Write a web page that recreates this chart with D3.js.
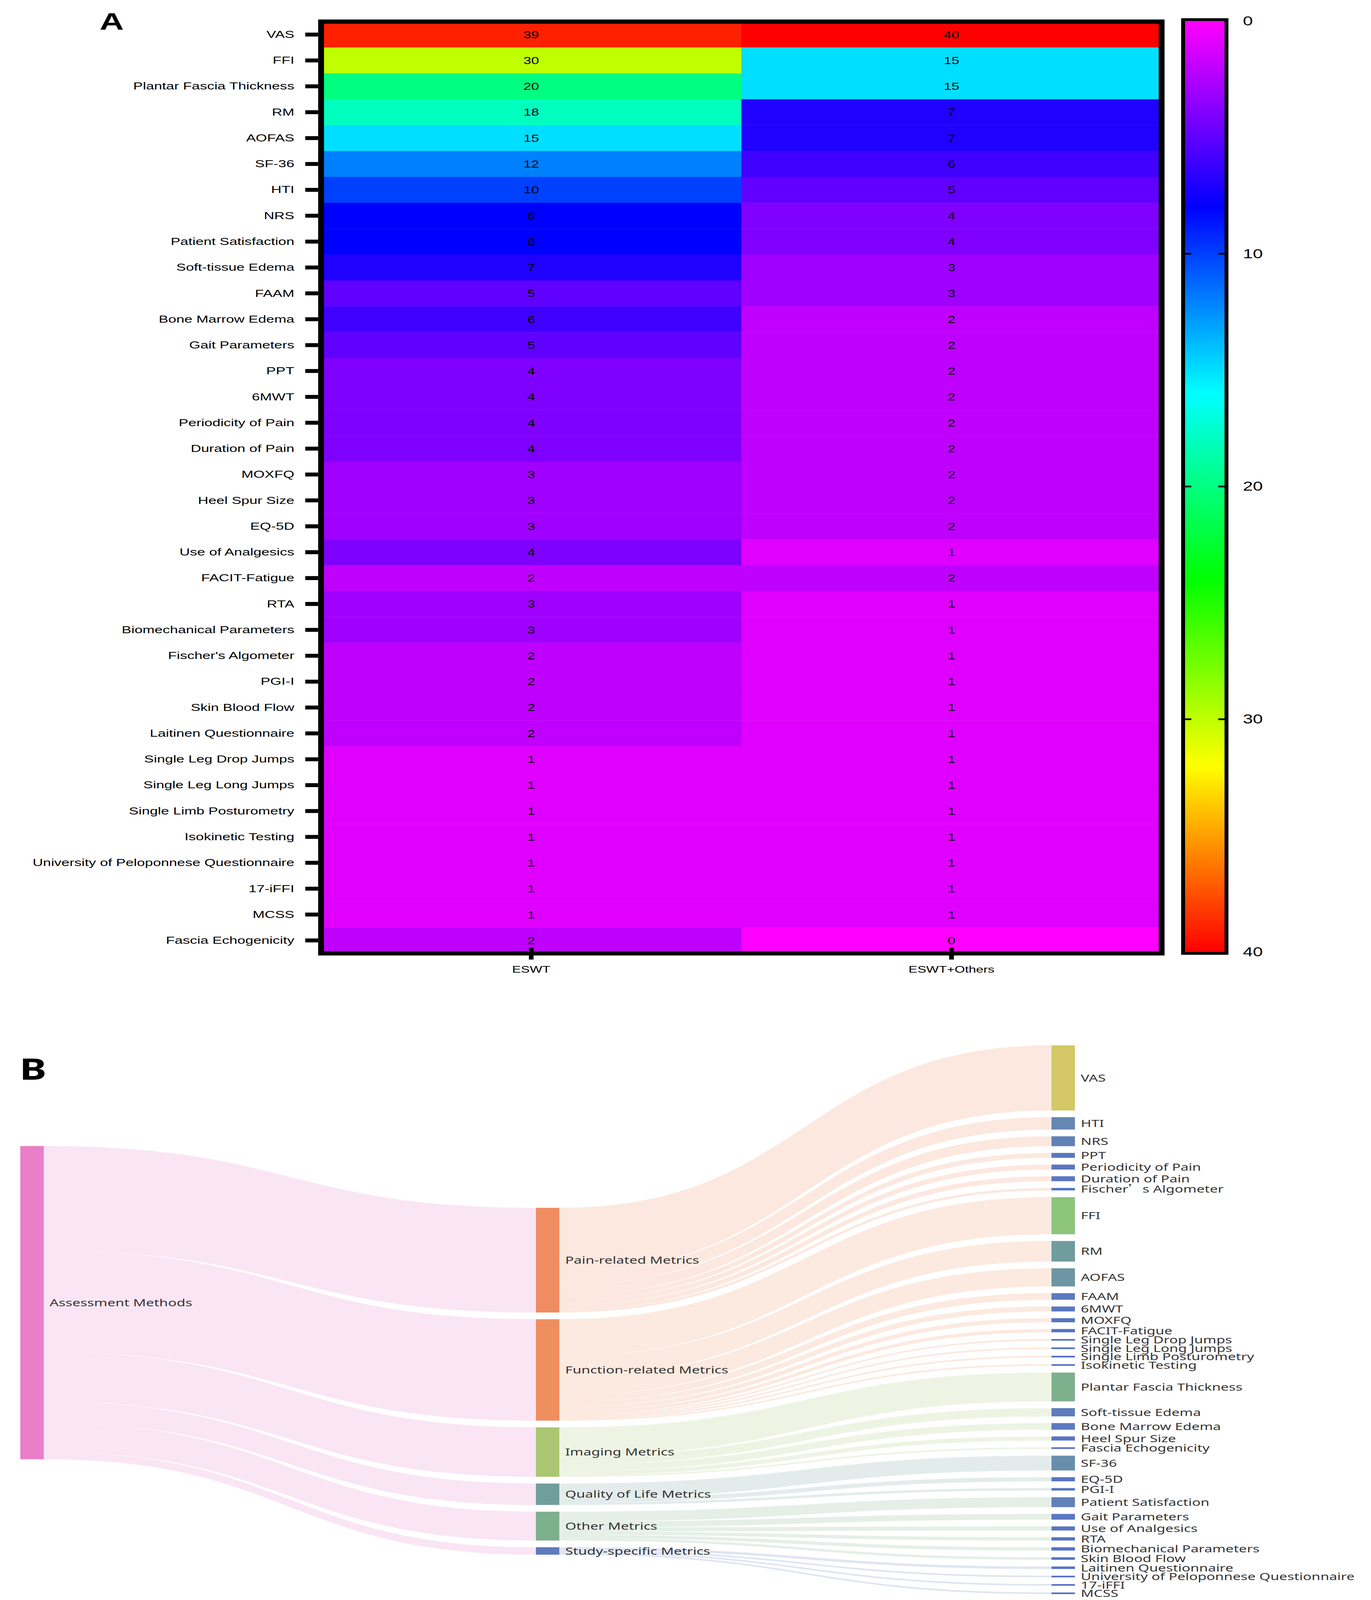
<!DOCTYPE html>
<html>
<head>
<meta charset="utf-8">
<script src="https://cdn.jsdelivr.net/npm/d3@7"></script>
<style>
  html, body { margin: 0; padding: 0; background: #fff; overflow: hidden; }
  svg { display: block; }
</style>
</head>
<body>
<svg id="chart"></svg>
<script>

// ---- panel A : heatmap data ----
var metrics = ["VAS", "FFI", "Plantar Fascia Thickness", "RM", "AOFAS", "SF-36", "HTI", "NRS",
  "Patient Satisfaction", "Soft-tissue Edema", "FAAM", "Bone Marrow Edema", "Gait Parameters", "PPT",
  "6MWT", "Periodicity of Pain", "Duration of Pain", "MOXFQ", "Heel Spur Size", "EQ-5D",
  "Use of Analgesics", "FACIT-Fatigue", "RTA", "Biomechanical Parameters", "Fischer's Algometer",
  "PGI-I", "Skin Blood Flow", "Laitinen Questionnaire", "Single Leg Drop Jumps", "Single Leg Long Jumps",
  "Single Limb Posturometry", "Isokinetic Testing", "University of Peloponnese Questionnaire",
  "17-iFFI", "MCSS", "Fascia Echogenicity"];
var eswt       = [39, 30, 20, 18, 15, 12, 10, 8, 8, 7, 5, 6, 5, 4, 4, 4, 4, 3, 3, 3, 4, 2, 3, 3, 2, 2, 2, 2, 1, 1, 1, 1, 1, 1, 1, 2];
var eswtOthers = [40, 15, 15, 7, 7, 6, 5, 4, 4, 3, 3, 2, 2, 2, 2, 2, 2, 2, 2, 2, 1, 2, 1, 1, 1, 1, 1, 1, 1, 1, 1, 1, 1, 1, 1, 0];
var groups = ["ESWT", "ESWT+Others"];
var colorTicks = [0, 10, 20, 30, 40];

// ---- panel B : sankey data ----
var sankeyRoot = "Assessment Methods";
var categories = ["Pain-related Metrics", "Function-related Metrics", "Imaging Metrics",
  "Quality of Life Metrics", "Other Metrics", "Study-specific Metrics"];
var catMetrics = [
  ["VAS", "HTI", "NRS", "PPT", "Periodicity of Pain", "Duration of Pain", "Fischer\u2019s Algometer"],
  ["FFI", "RM", "AOFAS", "FAAM", "6MWT", "MOXFQ", "FACIT-Fatigue", "Single Leg Drop Jumps",
   "Single Leg Long Jumps", "Single Limb Posturometry", "Isokinetic Testing"],
  ["Plantar Fascia Thickness", "Soft-tissue Edema", "Bone Marrow Edema", "Heel Spur Size", "Fascia Echogenicity"],
  ["SF-36", "EQ-5D", "PGI-I"],
  ["Patient Satisfaction", "Gait Parameters", "Use of Analgesics", "RTA", "Biomechanical Parameters", "Skin Blood Flow"],
  ["Laitinen Questionnaire", "University of Peloponnese Questionnaire", "17-iFFI", "MCSS"]
];
var catValues = [
  [79, 15, 12, 6, 6, 6, 3],
  [45, 25, 22, 8, 6, 5, 4, 2, 2, 2, 2],
  [35, 10, 8, 5, 2],
  [18, 5, 3],
  [12, 7, 5, 4, 4, 3],
  [3, 2, 2, 2]
];

// the drawing is laid out on a 3510 x 5706 page and fitted to the window
var W = 3510, PH = 5706;
var svg = d3.select("#chart")
  .attr("width", window.innerWidth || W)
  .attr("height", window.innerHeight || PH)
  .attr("viewBox", "0 0 " + W + " " + PH)
  .attr("preserveAspectRatio", "none");
svg.append("rect").attr("width", W).attr("height", PH).attr("fill", "#fff");

var arial = "'Liberation Sans', Arial, Helvetica, sans-serif";

// ================= A : heatmap =================
var heat = d3.scaleLinear()
  .domain([0, 8, 16, 24, 32, 40])
  .range(["#ff00ff", "#0000ff", "#00ffff", "#00ff00", "#ffff00", "#ff0000"]);

var x = d3.scaleBand().domain(groups).range([822, 2974]);
var y = d3.scaleBand().domain(metrics).range([77, 3400]);

var cells = [];
metrics.forEach(function(m, i) {
  cells.push({m: m, g: groups[0], v: eswt[i]});
  cells.push({m: m, g: groups[1], v: eswtOthers[i]});
});

var gA = svg.append("g");

gA.selectAll("rect.cell")
  .data(cells)
  .join("rect")
    .attr("class", "cell")
    .attr("x", function(d) { return x(d.g); })
    .attr("y", function(d) { return y(d.m); })
    .attr("width", x.bandwidth() + 0.5)
    .attr("height", y.bandwidth() + 0.5)
    .attr("fill", function(d) { return heat(d.v); });

gA.selectAll("text.val")
  .data(cells)
  .join("text")
    .attr("class", "val")
    .attr("x", function(d) { return x(d.g) + x.bandwidth() / 2; })
    .attr("y", function(d) { return y(d.m) + y.bandwidth() / 2; })
    .attr("dy", "0.36em")
    .attr("text-anchor", "middle")
    .style("font", "36px " + arial)
    .text(function(d) { return d.v; });

// frame
var fx = x.range(), fy = y.range();
gA.append("rect")
  .attr("x", fx[0]).attr("y", fy[0])
  .attr("width", fx[1] - fx[0]).attr("height", fy[1] - fy[0])
  .attr("fill", "none").attr("stroke", "#000").attr("stroke-width", 15);

var yAxis = gA.append("g")
  .attr("transform", "translate(" + (fx[0] - 7.5) + ",0)")
  .call(d3.axisLeft(y).tickSize(33).tickPadding(28));
yAxis.select(".domain").remove();
yAxis.selectAll("line").attr("stroke", "#000").attr("stroke-width", 14);
yAxis.selectAll("text").attr("fill", "#000").style("font", "37px " + arial);

var xAxis = gA.append("g")
  .attr("transform", "translate(0," + (fy[1] - 20) + ")")
  .call(d3.axisBottom(x).tickSize(42).tickPadding(22));
xAxis.select(".domain").remove();
xAxis.selectAll("line").attr("stroke", "#000").attr("stroke-width", 12);
xAxis.selectAll("text").attr("fill", "#000").style("font", "34px " + arial);

gA.append("text")
  .attr("x", 255).attr("y", 106)
  .style("font", "bold 86px " + arial)
  .text("A");

// colour bar
var cb = d3.scaleLinear().domain([0, 40]).range([75, 3395]);
var defs = svg.append("defs");
var grad = defs.append("linearGradient")
  .attr("id", "heatgrad")
  .attr("x1", 0).attr("y1", 0).attr("x2", 0).attr("y2", 1);
grad.selectAll("stop")
  .data(heat.domain())
  .join("stop")
    .attr("offset", function(d) { return d / 40; })
    .attr("stop-color", function(d) { return heat(d); });

var cbx0 = 3034, cbx1 = 3135;
gA.append("rect")
  .attr("x", cbx0).attr("y", cb(0))
  .attr("width", cbx1 - cbx0).attr("height", cb(40) - cb(0))
  .attr("fill", "url(#heatgrad)");
gA.append("rect")
  .attr("x", cbx0 - 5).attr("y", cb(0) - 5)
  .attr("width", cbx1 - cbx0 + 10).attr("height", cb(40) - cb(0) + 10)
  .attr("fill", "none").attr("stroke", "#000").attr("stroke-width", 10);

var inner = colorTicks.filter(function(t) { return t > 0 && t < 40; });
gA.selectAll("line.cbl").data(inner).join("line")
  .attr("class", "cbl")
  .attr("x1", cbx0).attr("x2", cbx0 + 16)
  .attr("y1", function(d) { return cb(d); }).attr("y2", function(d) { return cb(d); })
  .attr("stroke", "#000").attr("stroke-width", 6);
gA.selectAll("line.cbr").data(inner).join("line")
  .attr("class", "cbr")
  .attr("x1", cbx1 - 16).attr("x2", cbx1)
  .attr("y1", function(d) { return cb(d); }).attr("y2", function(d) { return cb(d); })
  .attr("stroke", "#000").attr("stroke-width", 6);

var cAxis = gA.append("g")
  .attr("transform", "translate(" + (cbx1 + 10) + ",0)")
  .call(d3.axisRight(cb).tickValues(colorTicks).tickSize(0).tickPadding(37).tickFormat(d3.format("d")));
cAxis.select(".domain").remove();
cAxis.selectAll("text").attr("fill", "#000").style("font", "46px " + arial);

// ================= B : sankey =================
var nodes = [{name: sankeyRoot, depth: 0}];
categories.forEach(function(c) { nodes.push({name: c, depth: 1}); });
catMetrics.forEach(function(list) {
  list.forEach(function(m) { nodes.push({name: m, depth: 2}); });
});
var byName = {};
nodes.forEach(function(n) { n.inLinks = []; n.outLinks = []; byName[n.name] = n; });

var links = [];
categories.forEach(function(c, i) {
  links.push({source: byName[sankeyRoot], target: byName[c], value: d3.sum(catValues[i])});
  catMetrics[i].forEach(function(m, j) {
    links.push({source: byName[c], target: byName[m], value: catValues[i][j]});
  });
});
links.forEach(function(l) { l.source.outLinks.push(l); l.target.inLinks.push(l); });
nodes.forEach(function(n) {
  n.value = Math.max(d3.sum(n.inLinks, function(l) { return l.value; }),
                     d3.sum(n.outLinks, function(l) { return l.value; }));
});

var sx0 = 52, sx1 = 2752, sy0 = 3728, sy1 = 5685, nodeW = 60, nodeGap = 24, iterations = 32;
var H = sy1 - sy0;
var colX = d3.scaleLinear().domain([0, 2]).range([sx0, sx1 - nodeW]);

var columns = d3.groups(nodes, function(n) { return n.depth; }).map(function(g) { return g[1]; });
var ky = d3.min(columns, function(col) {
  return (H - (col.length - 1) * nodeGap) / d3.sum(col, function(n) { return n.value; });
});
columns.forEach(function(col) {
  col.forEach(function(n, i) { n.y = i; n.dy = n.value * ky; });
});
links.forEach(function(l) { l.dy = l.value * ky; });

function center(n) { return n.y + n.dy / 2; }

function resolveCollisions() {
  columns.forEach(function(col) {
    col.sort(function(a, b) { return a.y - b.y; });
    var y0 = 0, n = col.length, node, d, i;
    for (i = 0; i < n; i++) {
      node = col[i];
      d = y0 - node.y;
      if (d > 0) node.y += d;
      y0 = node.y + node.dy + nodeGap;
    }
    d = y0 - nodeGap - H;
    if (d > 0) {
      node.y -= d;
      y0 = node.y;
      for (i = n - 2; i >= 0; i--) {
        node = col[i];
        d = node.y + node.dy + nodeGap - y0;
        if (d > 0) node.y -= d;
        y0 = node.y;
      }
    }
  });
}

function relaxRightToLeft(alpha) {
  columns.slice().reverse().forEach(function(col) {
    col.forEach(function(n) {
      if (n.outLinks.length) {
        var t = d3.sum(n.outLinks, function(l) { return center(l.target) * l.value; }) /
                d3.sum(n.outLinks, function(l) { return l.value; });
        n.y += (t - center(n)) * alpha;
      }
    });
  });
}

function relaxLeftToRight(alpha) {
  columns.forEach(function(col) {
    col.forEach(function(n) {
      if (n.inLinks.length) {
        var t = d3.sum(n.inLinks, function(l) { return center(l.source) * l.value; }) /
                d3.sum(n.inLinks, function(l) { return l.value; });
        n.y += (t - center(n)) * alpha;
      }
    });
  });
}

resolveCollisions();
for (var alpha = 1, it = iterations; it > 0; it--) {
  alpha *= 0.99;
  relaxRightToLeft(alpha);
  resolveCollisions();
  relaxLeftToRight(alpha);
  resolveCollisions();
}

nodes.forEach(function(n) {
  n.x = colX(n.depth);
  n.y += sy0;
  n.outLinks.sort(function(a, b) { return a.target.y - b.target.y; });
  n.inLinks.sort(function(a, b) { return a.source.y - b.source.y; });
});
nodes.forEach(function(n) {
  var so = 0, to = 0;
  n.outLinks.forEach(function(l) { l.sy = so; so += l.dy; });
  n.inLinks.forEach(function(l) { l.ty = to; to += l.dy; });
});

var nodeColor = d3.scaleLinear()
  .domain([2, 10, 25, 45, 79, 125, 380])
  .range(["#5470c6", "#5f7dbc", "#709c9e", "#8cc47c", "#d3c865", "#f08c60", "#e87fc8"]);

function bandPath(l) {
  var x0 = l.source.x + nodeW, x1 = l.target.x, xm = (x0 + x1) / 2;
  var y0 = l.source.y + l.sy, y1 = l.target.y + l.ty;
  var p = d3.path();
  p.moveTo(x0, y0);
  p.bezierCurveTo(xm, y0, xm, y1, x1, y1);
  p.lineTo(x1, y1 + l.dy);
  p.bezierCurveTo(xm, y1 + l.dy, xm, y0 + l.dy, x0, y0 + l.dy);
  p.closePath();
  return p.toString();
}

var gB = svg.append("g");

gB.selectAll("path.link")
  .data(links)
  .join("path")
    .attr("class", "link")
    .attr("d", bandPath)
    .attr("fill", function(l) { return nodeColor(l.source.value); })
    .attr("fill-opacity", 0.2);

gB.selectAll("rect.node")
  .data(nodes)
  .join("rect")
    .attr("class", "node")
    .attr("x", function(n) { return n.x; })
    .attr("y", function(n) { return n.y; })
    .attr("width", nodeW)
    .attr("height", function(n) { return Math.max(1, n.dy); })
    .attr("fill", function(n) { return nodeColor(n.value); });

var sankeyFont = "'Noto Sans', 'Open Sans', sans-serif";
gB.selectAll("text.lbl")
  .data(nodes)
  .join("text")
    .attr("class", "lbl")
    .attr("x", function(n) { return n.x + nodeW + 15; })
    .attr("y", function(n) { return n.y + n.dy / 2; })
    .attr("dy", "0.35em")
    .attr("fill", "#333")
    .style("font", "36.5px " + sankeyFont)
    .each(function(n) {
      var t = d3.select(this);
      var parts = n.name.split("\u2019");
      if (parts.length > 1) {
        t.append("tspan").text(parts[0]);
        t.append("tspan").style("font-family", "'Noto Sans CJK SC'").text("\u2019");
        t.append("tspan").text(parts[1]);
      } else {
        t.text(n.name);
      }
    });

gB.append("text")
  .attr("x", 50).attr("y", 3850)
  .style("font", "bold 104px " + sankeyFont)
  .text("B");

</script>
</body>
</html>
